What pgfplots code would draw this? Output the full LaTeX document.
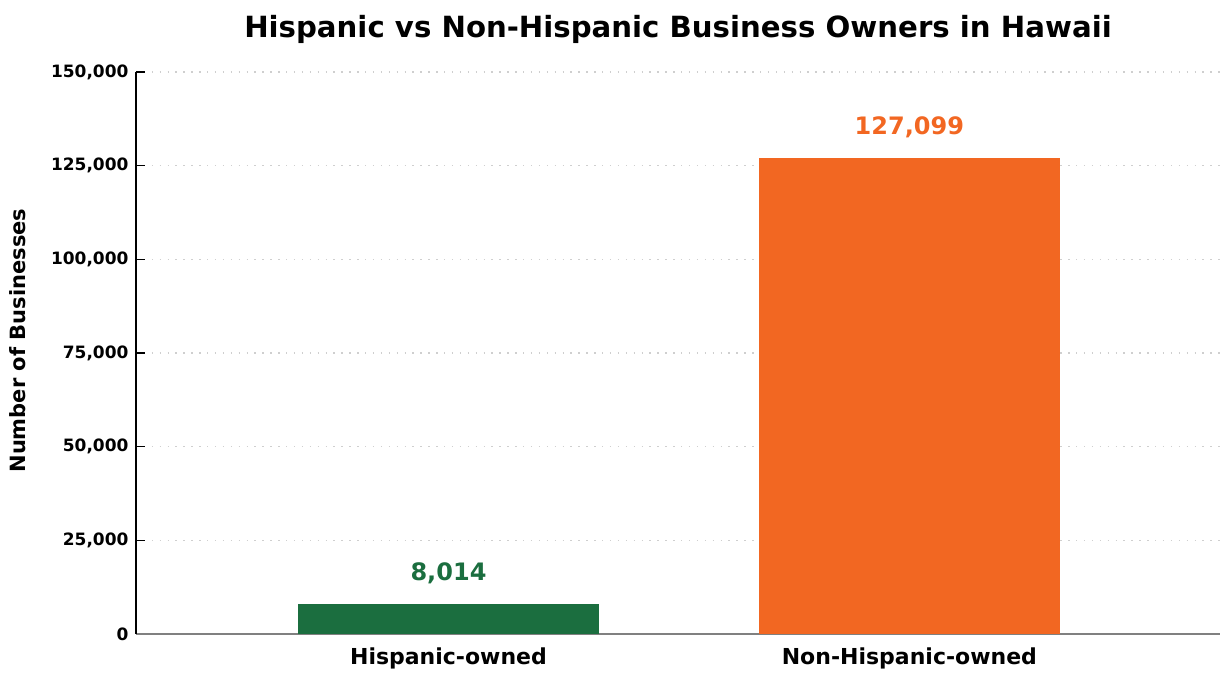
\documentclass[border=0pt]{standalone}
\usepackage{fontspec}
\setmainfont{DejaVu Sans}
\usepackage{pgfplots}
\pgfplotsset{compat=1.18}
\definecolor{hgreen}{HTML}{1B6E3F}
\definecolor{horange}{HTML}{F26722}
\definecolor{gridc}{HTML}{CFCFCF}
\definecolor{axgray}{HTML}{808080}
\begin{document}
\begin{tikzpicture}
\begin{axis}[name=ax, scale only axis, width=1084pt, height=562pt,
  xmin=-0.678, xmax=1.674, ymin=0, ymax=150000,
  scaled y ticks=false,
  axis x line*=bottom, axis y line*=left,
  x axis line style={axgray, line width=2pt, -},
  y axis line style={black, line width=1.2pt, -},
  xtick={0,1}, xticklabels={Hispanic-owned,Non-Hispanic-owned},
  xtick style={draw=none},
  xticklabel style={font=\bfseries\fontsize{22}{22}\selectfont, yshift=-1pt},
  ytick={0,25000,50000,75000,100000,125000,150000},
  yticklabels={0,{25,000},{50,000},{75,000},{100,000},{125,000},{150,000}},
  yticklabel style={font=\bfseries\fontsize{17}{17}\selectfont, xshift=-4pt},
  ytick style={black, line width=1.2pt}, tick align=inside, major tick length=9pt,
  ymajorgrids, grid style={gridc, line width=1.4pt, dash pattern=on 1.4pt off 6.5pt},
  ylabel={Number of Businesses},
  ylabel style={at={(axis description cs:-0.1089,0.522)}, anchor=center, font=\bfseries\fontsize{21}{21}\selectfont},
  title={Hispanic vs Non-Hispanic Business Owners in Hawaii},
  title style={at={(axis description cs:0.5,1)}, anchor=center, yshift=37pt, font=\bfseries\fontsize{29.2}{29.2}\selectfont},
  ybar, bar width=301pt, bar shift=0pt,
  nodes near coords={\pgfmathprintnumber[fixed,precision=0,1000 sep={,},assume math mode=true]{\pgfplotspointmeta}},
  nodes near coords style={anchor=south, inner sep=0pt, yshift=20pt, font=\bfseries\fontsize{24}{24}\selectfont},
]
\addplot[fill=hgreen, draw=none, nodes near coords style={text=hgreen}] coordinates {(0,8014)};
\addplot[fill=horange, draw=none, nodes near coords style={text=horange}] coordinates {(1,127099)};
\end{axis}
\path ([xshift=-136pt,yshift=-46pt]ax.south west) rectangle ([xshift=10pt,yshift=72pt]ax.north east);
\end{tikzpicture}
\end{document}
